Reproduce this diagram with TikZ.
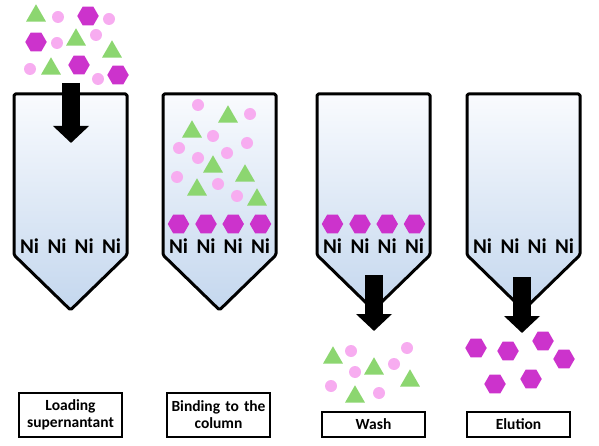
\documentclass[tikz,border=0pt]{standalone}
\usepackage{fontspec}
\setmainfont{Carlito}
\usetikzlibrary{shapes.geometric,arrows.meta}

\definecolor{hexMagenta}{RGB}{204,51,204}
\definecolor{dotPink}{RGB}{247,172,240}
\definecolor{triGreen}{RGB}{140,214,112}
\definecolor{colTop}{RGB}{249,251,254}
\definecolor{colBottom}{RGB}{196,215,238}

\tikzset{
  column/.style={draw=black, line width=3pt, line join=round, rounded corners=1.5pt,
    top color=colTop, bottom color=colBottom},
  hexa/.style={regular polygon, regular polygon sides=6, minimum size=21.5pt, inner sep=0pt, fill=hexMagenta},
  tri/.style={regular polygon, regular polygon sides=3, minimum size=23pt, inner sep=0pt, fill=triGreen, yshift=-2.8pt},
  dot/.style={circle, minimum size=12pt, inner sep=0pt, fill=dotPink},
  ni/.style={font=\bfseries\fontsize{21}{21}\selectfont, anchor=base, inner sep=0pt},
  stepbox/.style={draw, line width=1.4pt, minimum width=103pt, text width=97pt, align=center,
    inner sep=0pt, font=\bfseries\fontsize{15.5}{17}\selectfont},
  bigarrow/.style={line width=18pt, -{Triangle[width=35pt,length=17pt]}},
}

\begin{document}
\begin{tikzpicture}[x=1pt, y=-1pt]
  \useasboundingbox (0,0) rectangle (599,446);

  % the four columns
  \foreach \x/\name in {14/load, 163/bind, 317/wash, 467/elute} {
    \draw[column] (\x,94) -- ({\x+113},94) -- ({\x+113},255) -- ({\x+56.5},310) -- (\x,255) -- cycle;
    \foreach \dx [count=\k] in {15.5, 43, 70.2, 97.5}
      \node[ni] (\name-ni\k) at ({\x+\dx},253.5) {Ni};
  }

  % bound protein on the resin
  \foreach \x/\name in {163/bind, 317/wash}
    \foreach \dx [count=\k] in {15.5, 43, 70.2, 97.5}
      \node[hexa] (\name-hex\k) at ({\x+\dx},224) {};

  % supernatant above column 1
  \foreach \px/\py [count=\i] in {36/13, 76/37, 112/49, 51/66}
    \node[tri] (load-tri\i) at (\px,\py) {};
  \foreach \px/\py [count=\i] in {58/17, 109/19, 57/43, 96/35, 30/69, 98/79}
    \node[dot] (load-dot\i) at (\px,\py) {};
  \foreach \px/\py [count=\i] in {88/16, 36/42, 79/65, 118/75}
    \node[hexa] (load-hex\i) at (\px,\py) {};

  % inside column 2
  \foreach \px/\py [count=\i] in {198/105, 250/114, 213/136, 179/148, 247/143, 198/158, 227/153, 177/177, 218/184, 237/196}
    \node[dot] (bind-dot\i) at (\px,\py) {};
  \foreach \px/\py [count=\i] in {228/114, 192/129, 213/164, 245/173, 197/187, 257/197}
    \node[tri] (bind-tri\i) at (\px,\py) {};

  % washed out
  \foreach \px/\py [count=\i] in {333/355, 374/366, 410/378, 355/394}
    \node[tri] (out-tri\i) at (\px,\py) {};
  \foreach \px/\py [count=\i] in {351/351, 407/348, 394/364, 355/372, 331/386, 379/393}
    \node[dot] (out-dot\i) at (\px,\py) {};

  % eluted
  \foreach \px/\py [count=\i] in {476/348, 508/351, 543/341, 564/359, 531/379, 495/384}
    \node[hexa] (elute-hex\i) at (\px,\py) {};

  \coordinate (load-from) at (71,83);
  \coordinate (load-to) at (71,143);
  \coordinate (wash-from) at (374,275);
  \coordinate (wash-to) at (374,331);
  \coordinate (elute-from) at (522,277);
  \coordinate (elute-to) at (522,333);
  \draw[bigarrow] (load-from) -- (load-to);
  \draw[bigarrow] (wash-from) -- (wash-to);
  \draw[bigarrow] (elute-from) -- (elute-to);

  \node[stepbox, minimum height=44pt] (load-box) at (70.5,415) {Loading\\supernantant};
  \node[stepbox, minimum height=44pt] (bind-box) at (218.5,415) {Binding to the\\column};
  \node[stepbox, minimum height=25pt] (wash-box) at (373.5,424.5) {Wash};
  \node[stepbox, minimum height=25pt] (elute-box) at (518.5,424.5) {Elution};
\end{tikzpicture}
\end{document}
